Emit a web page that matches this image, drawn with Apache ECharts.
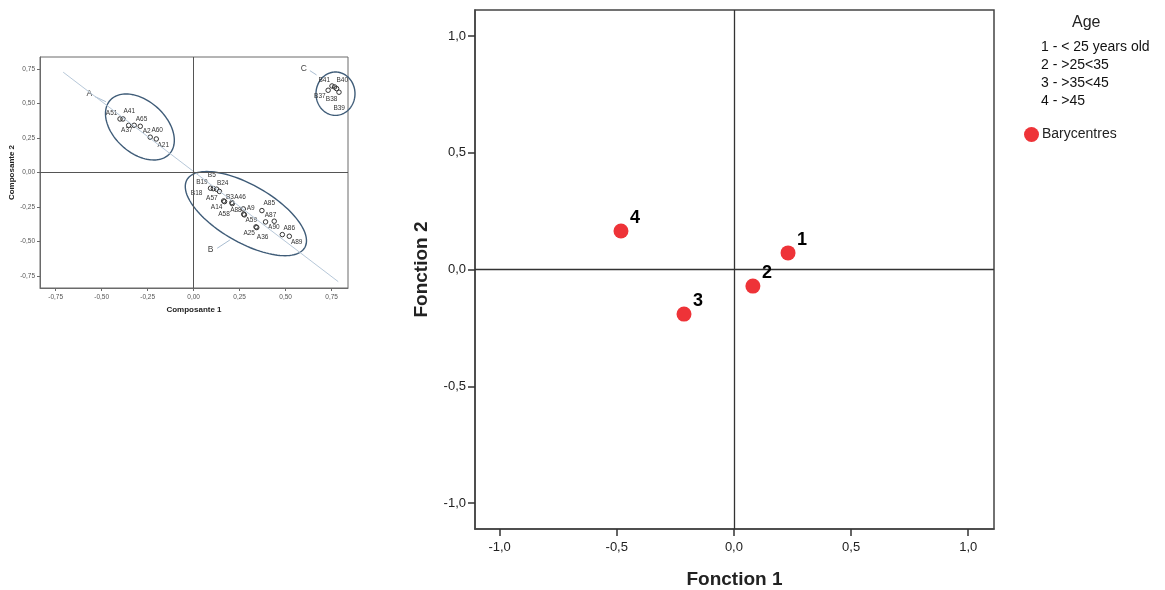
<!DOCTYPE html>
<html>
<head>
<meta charset="utf-8">
<script src="https://cdn.jsdelivr.net/npm/echarts@6/dist/echarts.min.js"></script>
<style>
html,body{margin:0;padding:0;background:#fff;}
#chart{width:1165px;height:590px;}
</style>
</head>
<body>
<div id="chart"></div>
<script>
// ---------- Main chart data (Fonction 1 / Fonction 2) ----------
const baryNames = ['1', '2', '3', '4'];
const baryX = [0.231, 0.081, -0.213, -0.482];
const baryY = [0.071, -0.071, -0.191, 0.165];
const mainTicks = [-1, -0.5, 0, 0.5, 1];
const mainXRange = [-1.105, 1.110];
const mainYRange = [-1.111, 1.111];

// ---------- Legend texts ----------
const ageTitle = 'Age';
const ageLines = ['1 - < 25 years old', '2 - >25<35', '3 - >35<45', '4 - >45'];

// ---------- Inset chart data (Composante 1 / Composante 2) ----------
const insetTicks = [-0.75, -0.5, -0.25, 0, 0.25, 0.5, 0.75];
const insetXRange = [-0.835, 0.839];
const insetYRange = [-0.836, 0.838];
const insetPtsA = [[-0.400, 0.389], [-0.384, 0.389], [-0.353, 0.343], [-0.323, 0.343], [-0.290, 0.336], [-0.236, 0.257], [-0.203, 0.244]];
const insetPtsB = [[0.092, -0.113], [0.107, -0.116], [0.125, -0.120], [0.140, -0.136], [0.163, -0.205], [0.168, -0.210], [0.208, -0.217], [0.210, -0.225], [0.270, -0.263], [0.371, -0.275], [0.272, -0.301], [0.276, -0.306], [0.391, -0.357], [0.438, -0.352], [0.339, -0.393], [0.343, -0.398], [0.482, -0.449], [0.520, -0.461]];
const insetPtsC = [[0.731, 0.597], [0.752, 0.628], [0.766, 0.621], [0.777, 0.609], [0.790, 0.583]];
const insetLabels = [
  [-0.446, 0.430, 'A51'], [-0.350, 0.442, 'A41'], [-0.283, 0.389, 'A65'], [-0.363, 0.304, 'A37'],
  [-0.255, 0.302, 'A2'], [-0.198, 0.304, 'A60'], [-0.165, 0.199, 'A21'],
  [0.099, -0.022, 'B5'], [0.045, -0.070, 'B19'], [0.158, -0.077, 'B24'], [0.016, -0.149, 'B18'],
  [0.099, -0.188, 'A57'], [0.197, -0.176, 'B3'], [0.252, -0.176, 'A46'], [0.125, -0.251, 'A14'],
  [0.165, -0.301, 'A58'], [0.230, -0.270, 'A88'], [0.310, -0.261, 'A9'], [0.411, -0.222, 'A85'],
  [0.418, -0.312, 'A87'], [0.313, -0.348, 'A59'], [0.436, -0.399, 'A90'], [0.520, -0.401, 'A86'],
  [0.302, -0.442, 'A25'], [0.375, -0.471, 'A36'], [0.560, -0.504, 'A89'],
  [0.710, 0.667, 'B41'], [0.808, 0.667, 'B40'], [0.686, 0.551, 'B37'], [0.750, 0.532, 'B38'], [0.791, 0.467, 'B39']
];
// ellipse: centre x, centre y, first radius vector (x,y), second radius vector (x,y) in data units
const ellipses = [
  [-0.292, 0.331, 0.1614, -0.194, -0.0946, -0.140],
  [0.284, -0.297, 0.320, -0.246, -0.078, -0.180],
  [0.771, 0.572, 0.106, 0, 0, -0.157]
];
const diagLine = [[-0.709, 0.728], [0.786, -0.790]];
const groupLetters = [[-0.567, 0.570, 'A'], [0.092, -0.555, 'B'], [0.599, 0.757, 'C']];
const pointers = [[-0.536, 0.551, -0.477, 0.514], [0.128, -0.548, 0.197, -0.488], [0.632, 0.739, 0.668, 0.708]];

const FONT = 'Liberation Sans, Arial, Helvetica, sans-serif';
const fmt1 = v => v.toFixed(1).replace('.', ',');
const fmt2 = v => v.toFixed(2).replace('.', ',');

const chart = echarts.init(document.getElementById('chart'), null, {renderer: 'canvas'});

const insetAxisCommon = {
  type: 'value',
  splitLine: {show: false},
  axisLine: {show: true, onZero: false, lineStyle: {color: '#6a6a6a', width: 1}},
  axisTick: {show: true, length: 3, customValues: insetTicks, lineStyle: {color: '#6a6a6a'}},
  axisLabel: {customValues: insetTicks, formatter: fmt2, fontSize: 6.5, color: '#555', fontFamily: FONT},
  nameLocation: 'middle',
  nameTextStyle: {fontSize: 8, fontWeight: 'bold', color: '#222', fontFamily: FONT}
};
const mainAxisCommon = {
  type: 'value',
  splitLine: {show: false},
  axisLine: {show: true, onZero: false, lineStyle: {color: '#444', width: 1.5}},
  axisTick: {show: true, length: 7, customValues: mainTicks, lineStyle: {color: '#333', width: 1.5}},
  axisLabel: {customValues: mainTicks, formatter: fmt1, fontSize: 13, color: '#222', fontFamily: FONT},
  nameLocation: 'middle',
  nameTextStyle: {fontSize: 19, fontWeight: 'bold', color: '#222', fontFamily: FONT}
};

const option = {
  animation: false,
  backgroundColor: '#fff',
  grid: [
    {left: 40, top: 57, width: 308, height: 231, show: true, borderColor: '#6a6a6a', borderWidth: 1, backgroundColor: 'transparent', containLabel: false, outerBoundsMode: 'none'},
    {left: 475, top: 10, width: 519, height: 519, show: true, borderColor: '#444', borderWidth: 1.5, backgroundColor: 'transparent', containLabel: false, outerBoundsMode: 'none'}
  ],
  xAxis: [
    Object.assign({}, insetAxisCommon, {gridIndex: 0, min: insetXRange[0], max: insetXRange[1], name: 'Composante 1', nameGap: 18,
      axisLabel: Object.assign({}, insetAxisCommon.axisLabel, {margin: 6})}),
    Object.assign({}, mainAxisCommon, {gridIndex: 1, min: mainXRange[0], max: mainXRange[1], name: 'Fonction 1', nameGap: 41,
      axisLabel: Object.assign({}, mainAxisCommon.axisLabel, {margin: 12})})
  ],
  yAxis: [
    Object.assign({}, insetAxisCommon, {gridIndex: 0, min: insetYRange[0], max: insetYRange[1], name: 'Composante 2', nameGap: 21,
      axisLabel: Object.assign({}, insetAxisCommon.axisLabel, {margin: 5})}),
    Object.assign({}, mainAxisCommon, {gridIndex: 1, min: mainYRange[0], max: mainYRange[1], name: 'Fonction 2', nameGap: 44,
      axisLabel: Object.assign({}, mainAxisCommon.axisLabel, {margin: 9})})
  ],
  legend: {
    data: ['Barycentres'],
    left: 1019, top: 122,
    icon: 'circle', itemWidth: 15, itemHeight: 15, itemGap: 4,
    textStyle: {fontSize: 14, color: '#222', fontFamily: FONT, padding: [0, 0, 0, -2]}
  },
  graphic: [
    {type: 'text', left: 1072, top: 15, style: {text: ageTitle, fontSize: 16, fill: '#222', fontFamily: FONT}}
  ].concat(ageLines.map((t, i) => ({
    type: 'text', left: 1041, top: 40 + i * 18, style: {text: t, fontSize: 14, fill: '#111', fontFamily: FONT}
  }))),
  series: [
    // inset diagonal reference line
    {
      type: 'line', xAxisIndex: 0, yAxisIndex: 0, data: diagLine, symbol: 'none', silent: true,
      lineStyle: {color: '#b7c8d9', width: 1},
      markLine: {
        silent: true, symbol: ['none', 'none'], label: {show: false},
        lineStyle: {color: '#555', width: 1, type: 'solid'},
        data: [{xAxis: 0}, {yAxis: 0}]
      }
    },
    // inset ellipses
    {
      type: 'custom', xAxisIndex: 0, yAxisIndex: 0, clip: false, silent: true,
      data: ellipses.map(e => [e[0], e[1]]),
      renderItem: function (params, api) {
        const e = ellipses[params.dataIndex];
        const pts = [];
        for (let k = 0; k < 120; k++) {
          const t = k / 120 * Math.PI * 2;
          pts.push(api.coord([e[0] + e[2] * Math.cos(t) + e[4] * Math.sin(t), e[1] + e[3] * Math.cos(t) + e[5] * Math.sin(t)]));
        }
        return {type: 'polygon', shape: {points: pts}, style: {fill: 'none', stroke: '#3f5c78', lineWidth: 1.4}};
      }
    },
    // inset pointer lines
    {
      type: 'custom', xAxisIndex: 0, yAxisIndex: 0, silent: true,
      data: pointers.map(p => [p[0], p[1]]),
      renderItem: function (params, api) {
        const p = pointers[params.dataIndex];
        const a = api.coord([p[0], p[1]]), b = api.coord([p[2], p[3]]);
        return {type: 'line', shape: {x1: a[0], y1: a[1], x2: b[0], y2: b[1]}, style: {stroke: '#a9bdd1', lineWidth: 1}};
      }
    },
    // inset points
    {
      type: 'scatter', xAxisIndex: 0, yAxisIndex: 0, silent: true,
      data: insetPtsA.concat(insetPtsB, insetPtsC),
      symbol: 'circle', symbolSize: 4.5,
      itemStyle: {color: 'rgba(255,255,255,0)', borderColor: '#333', borderWidth: 1, opacity: 1}
    },
    // inset point labels
    {
      type: 'custom', xAxisIndex: 0, yAxisIndex: 0, silent: true, clip: false,
      data: insetLabels.map(l => [l[0], l[1]]),
      renderItem: function (params, api) {
        const l = insetLabels[params.dataIndex];
        const p = api.coord([l[0], l[1]]);
        return {type: 'text', x: p[0], y: p[1], style: {text: l[2], fontSize: 6.5, fontFamily: FONT, fill: '#333', align: 'center', verticalAlign: 'middle'}};
      }
    },
    // inset group letters
    {
      type: 'custom', xAxisIndex: 0, yAxisIndex: 0, silent: true,
      data: groupLetters.map(l => [l[0], l[1]]),
      renderItem: function (params, api) {
        const l = groupLetters[params.dataIndex];
        const p = api.coord([l[0], l[1]]);
        return {type: 'text', x: p[0], y: p[1], style: {text: l[2], fontSize: 8.5, fontFamily: FONT, fill: '#444', align: 'center', verticalAlign: 'middle'}};
      }
    },
    // main barycentres
    {
      name: 'Barycentres',
      type: 'scatter', xAxisIndex: 1, yAxisIndex: 1,
      data: baryNames.map((n, i) => ({name: n, value: [baryX[i], baryY[i]]})),
      symbol: 'circle', symbolSize: 15,
      itemStyle: {color: '#ee3338', opacity: 1},
      label: {
        show: true, formatter: p => p.name, position: [21.5, -5.5],
        align: 'center', verticalAlign: 'middle',
        fontSize: 18, fontWeight: 'bold', color: '#000', fontFamily: FONT
      },
      emphasis: {disabled: true},
      markLine: {
        silent: true, symbol: ['none', 'none'], label: {show: false},
        lineStyle: {color: '#333', width: 1.3, type: 'solid'},
        data: [{xAxis: 0}, {yAxis: 0}]
      },
      z: 5
    }
  ]
};
chart.setOption(option);
</script>
</body>
</html>
